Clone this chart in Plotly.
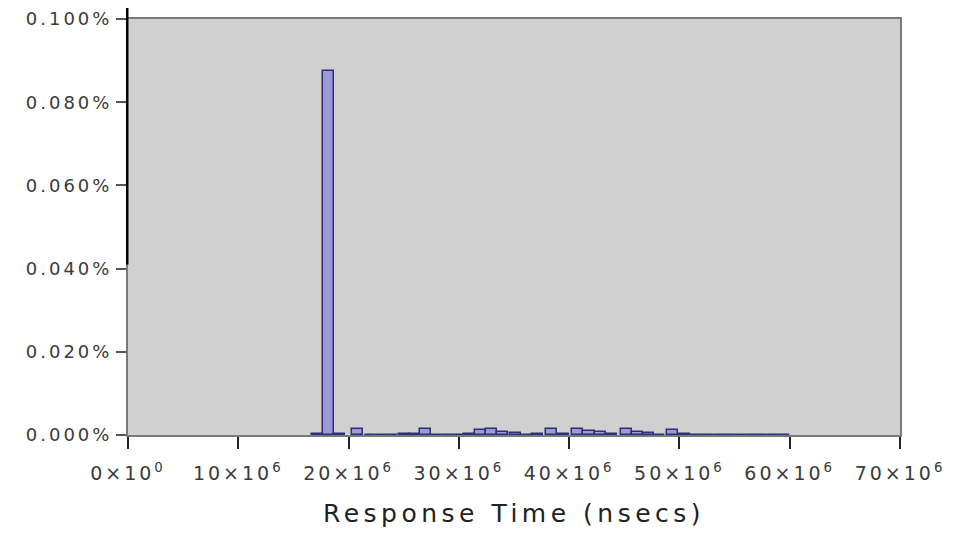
import plotly.graph_objects as go

# Histogram of response times (bin centers in units of 1e6 ns, share in %)
bin_centers_m = [17.2, 18.2, 19.2, 20.85, 22.0, 23.0, 24.0, 25.1, 26.0, 27.0,
                 28.0, 29.0, 30.0, 31.0, 32.0, 33.0, 34.0, 35.1, 36.1, 37.1,
                 38.4, 39.5, 40.8, 41.8, 42.8, 43.8, 45.2, 46.2, 47.2, 48.2,
                 49.4, 50.5, 51.5, 52.5, 53.5, 54.5, 55.5, 56.5, 57.5, 58.5, 59.5]
share_pct = [0.0002, 0.0875, 0.0003, 0.0015, 0.0, 0.0, 0.0, 0.0003, 0.0003, 0.0015,
             0.0, 0.0, 0.0001, 0.0003, 0.0013, 0.0015, 0.0008, 0.0004, 0.0, 0.0002,
             0.0014, 0.0002, 0.0015, 0.0010, 0.0008, 0.0002, 0.0015, 0.0007, 0.0006, 0.0,
             0.0013, 0.0002, 0.0001, 0.0001, 0.0001, 0.0001, 0.0001, 0.0001, 0.0001, 0.0001, 0.0001]
bin_width_m = 1.0

x_tick_vals_m = [0, 10, 20, 30, 40, 50, 60, 70]
x_tick_text = ["0×10<sup>0</sup>", "10×10<sup>6</sup>", "20×10<sup>6</sup>", "30×10<sup>6</sup>",
               "40×10<sup>6</sup>", "50×10<sup>6</sup>", "60×10<sup>6</sup>", "70×10<sup>6</sup>"]
y_tick_vals = [0, 0.02, 0.04, 0.06, 0.08, 0.10]
y_tick_text = ["0.000%", "0.020%", "0.040%", "0.060%", "0.080%", "0.100%"]

fig = go.Figure()
fig.add_trace(go.Bar(
    x=[v * 1e6 for v in bin_centers_m],
    y=share_pct,
    width=[bin_width_m * 1e6] * len(bin_centers_m),
    marker=dict(color="#9a9ad9", line=dict(color="#2e2e78", width=1.5)),
    showlegend=False,
))

font_family = "DejaVu Sans, Verdana, sans-serif"
fig.update_layout(
    width=957, height=535,
    margin=dict(l=120, r=65, t=11, b=108),
    paper_bgcolor="white",
    plot_bgcolor="#d0d0d0",
    bargap=0,
    font=dict(family=font_family, color="#333333"),
    xaxis=dict(
        range=[0, 70e6],
        automargin=False,
        tickvals=[v * 1e6 for v in x_tick_vals_m],
        ticktext=x_tick_text,
        ticks="outside", ticklen=12, tickwidth=1.5, tickcolor="#222222",
        ticklabelstandoff=8,
        showgrid=False, zeroline=False,
        showline=True, linecolor="#7a7a7a", linewidth=2, mirror=True,
        tickfont=dict(size=19, color="#3a3a3a"),
        title=dict(text="Response Time (nsecs)", font=dict(size=25, color="#222222"), standoff=22),
    ),
    yaxis=dict(
        range=[0, 0.1],
        automargin=False,
        tickvals=y_tick_vals,
        ticktext=y_tick_text,
        ticks="outside", ticklen=10, tickwidth=1.5, tickcolor="#555555",
        showgrid=False, zeroline=False,
        showline=True, linecolor="#7a7a7a", linewidth=2, mirror=True,
        tickfont=dict(size=18, color="#3a3a3a"),
    ),
    shapes=[dict(type="line", xref="paper", yref="paper", x0=-0.001, x1=-0.001,
                 y0=0.41, y1=1.05, line=dict(color="black", width=2.5))],
)

post_js = """
var gd = document.getElementById('{plot_id}');
function spaceText(){
  gd.querySelectorAll('.ytick text').forEach(function(e){ e.style.letterSpacing='3px'; });
  gd.querySelectorAll('.xtick text').forEach(function(e){ e.style.letterSpacing='3px'; });
  gd.querySelectorAll('.g-xtitle text').forEach(function(e){ e.style.letterSpacing='4.5px'; });
}
spaceText();
"""

fig.write_html("out.html", post_script=post_js)
